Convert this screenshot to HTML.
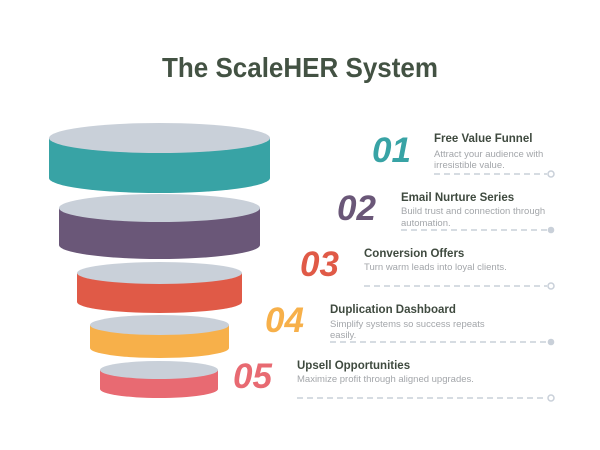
<!DOCTYPE html>
<html><head><meta charset="utf-8"><style>
html,body{margin:0;padding:0;background:#fff;}
svg{display:block;font-family:"Liberation Sans",Arial,sans-serif;}
.t{font-weight:bold;font-size:11.5px;fill:#3f4a3f;}
.d{font-size:9.5px;fill:#a3a6aa;}
.n{font-weight:bold;font-style:italic;font-size:35px;}
.l{stroke:#c9d0d9;stroke-width:1.6;stroke-dasharray:6,4;}
</style></head><body>
<svg width="600" height="450" viewBox="0 0 600 450">
<text x="300" y="77" text-anchor="middle" font-size="28" font-weight="bold" fill="#435243" textLength="276" lengthAdjust="spacingAndGlyphs">The ScaleHER System</text>

<g>
<path d="M49 138 L49 178 A110.5 15 0 0 0 270 178 L270 138 Z" fill="#38a3a5"/>
<ellipse cx="159.5" cy="138" rx="110.5" ry="15" fill="#c9d0d9"/>
<path d="M59 208 L59 245 A100.5 14 0 0 0 260 245 L260 208 Z" fill="#6a5778"/>
<ellipse cx="159.5" cy="208" rx="100.5" ry="14" fill="#c9d0d9"/>
<path d="M77 273 L77 302 A82.5 11 0 0 0 242 302 L242 273 Z" fill="#e05a47"/>
<ellipse cx="159.5" cy="273" rx="82.5" ry="11" fill="#c9d0d9"/>
<path d="M90 325 L90 348 A69.5 10 0 0 0 229 348 L229 325 Z" fill="#f7b04a"/>
<ellipse cx="159.5" cy="325" rx="69.5" ry="10" fill="#c9d0d9"/>
<path d="M100 370 L100 389 A59 9 0 0 0 218 389 L218 370 Z" fill="#e86a72"/>
<ellipse cx="159" cy="370" rx="59" ry="9" fill="#c9d0d9"/>
</g>

<text class="n" x="372" y="162" fill="#38a3a5">01</text>
<text class="t" x="434" y="142">Free Value Funnel</text>
<text class="d" x="434" y="157">Attract your audience with</text>
<text class="d" x="434" y="168">irresistible value.</text>
<line class="l" x1="434" y1="174" x2="547" y2="174"/>
<circle cx="551" cy="174" r="3" fill="#fff" stroke="#c9d0d9" stroke-width="1.5"/>

<text class="n" x="337" y="220" fill="#6a5778">02</text>
<text class="t" x="401" y="201">Email Nurture Series</text>
<text class="d" x="401" y="214">Build trust and connection through</text>
<text class="d" x="401" y="226">automation.</text>
<line class="l" x1="401" y1="230" x2="547" y2="230"/>
<circle cx="551" cy="230" r="3.3" fill="#c9d0d9"/>

<text class="n" x="300" y="276" fill="#e05a47">03</text>
<text class="t" x="364" y="257">Conversion Offers</text>
<text class="d" x="364" y="270">Turn warm leads into loyal clients.</text>
<line class="l" x1="364" y1="286" x2="547" y2="286"/>
<circle cx="551" cy="286" r="3" fill="#fff" stroke="#c9d0d9" stroke-width="1.5"/>

<text class="n" x="265" y="332" fill="#f7b04a">04</text>
<text class="t" x="330" y="313">Duplication Dashboard</text>
<text class="d" x="330" y="327">Simplify systems so success repeats</text>
<text class="d" x="330" y="338">easily.</text>
<line class="l" x1="330" y1="342" x2="547" y2="342"/>
<circle cx="551" cy="342" r="3.3" fill="#c9d0d9"/>

<text class="n" x="233" y="388" fill="#e86a72">05</text>
<text class="t" x="297" y="369">Upsell Opportunities</text>
<text class="d" x="297" y="382">Maximize profit through aligned upgrades.</text>
<line class="l" x1="297" y1="398" x2="547" y2="398"/>
<circle cx="551" cy="398" r="3" fill="#fff" stroke="#c9d0d9" stroke-width="1.5"/>
</svg>
</body></html>
